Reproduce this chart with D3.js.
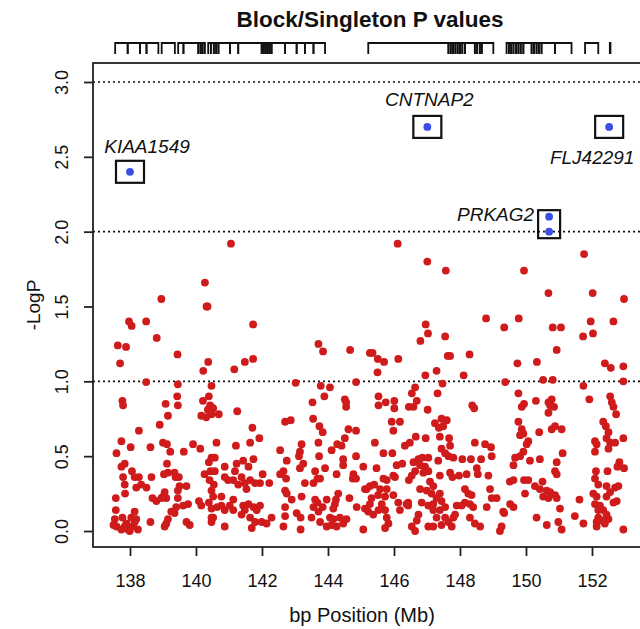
<!DOCTYPE html>
<html>
<head>
<meta charset="utf-8">
<script src="https://cdn.jsdelivr.net/npm/d3@7"></script>
<style>
  body { margin: 0; background: #fff; }
  text { font-family: "Liberation Sans", Arial, sans-serif; fill: #111; }
</style>
</head>
<body>
<script>
// tick values
var xTicks = [138, 140, 142, 144, 146, 148, 150, 152];
var yTicks = [0, 0.5, 1, 1.5, 2, 2.5, 3];
var thresholds = [1, 2, 3];

// LD blocks along the top [start Mb, end Mb]
var blocks = [
  [137.55, 137.93], [137.93, 138.30], [138.30, 138.50], [138.50, 138.86],
  [138.96, 139.36],
  [139.46, 139.62], [139.62, 140.07],
  [140.07, 140.14], [140.14, 140.20], [140.20, 140.27],
  [140.37, 140.45], [140.45, 140.54], [140.54, 140.61], [140.61, 140.68],
  [140.68, 141.03], [141.03, 141.28], [141.28, 141.99],
  [141.99, 142.05], [142.05, 142.11], [142.11, 142.17], [142.17, 142.23], [142.23, 142.29],
  [142.29, 142.70], [142.70, 143.05], [143.05, 143.30], [143.30, 143.56], [143.56, 143.91],
  [145.22, 147.65],
  [147.65, 147.72], [147.72, 147.79], [147.79, 147.86], [147.86, 147.93], [147.93, 148.00],
  [148.00, 148.07], [148.07, 148.15], [148.15, 148.45],
  [148.45, 148.52], [148.52, 148.60], [148.60, 148.66], [148.66, 149.01],
  [149.41, 149.48], [149.48, 149.55], [149.55, 149.62], [149.62, 149.70], [149.70, 149.77],
  [149.77, 149.84], [149.84, 149.92], [149.92, 150.17],
  [150.17, 150.24], [150.24, 150.32], [150.32, 150.39], [150.39, 150.47],
  [150.47, 150.88], [150.88, 151.38],
  [151.79, 152.19],
  [152.54, 152.56]
];

// highlighted genes
var genes = ["KIAA1549", "CNTNAP2", "PRKAG2", "FLJ42291"];
var geneSnps = [
  {gene: "KIAA1549", pos: 138.00, logp: 2.40},
  {gene: "CNTNAP2", pos: 147.01, logp: 2.70},
  {gene: "PRKAG2", pos: 150.70, logp: 2.10},
  {gene: "PRKAG2", pos: 150.70, logp: 2.00},
  {gene: "FLJ42291", pos: 152.52, logp: 2.70}
];

// all other SNPs [position Mb, -log P]
var snps = [
  // above 1.0
  [141.06,1.92],[140.27,1.66],[140.32,1.50],[140.35,1.50],[138.95,1.55],[137.97,1.40],[138.05,1.37],
  [138.49,1.40],[138.81,1.29],[137.63,1.24],[137.88,1.23],[137.70,1.12],[139.44,1.18],[141.73,1.38],
  [141.48,1.13],[141.73,1.15],[141.16,1.08],[140.22,1.07],[140.37,1.13],[143.71,1.25],[143.85,1.20],
  [144.67,1.21],[145.27,1.19],[138.49,0.995],[143.02,0.99],[144.85,0.995],
  [146.11,1.92],[151.76,1.85],[147.01,1.80],[147.57,1.74],[149.94,1.74],[150.68,1.59],[152.02,1.59],
  [152.97,1.55],[148.79,1.42],[149.78,1.42],[149.34,1.36],[150.81,1.36],[151.06,1.36],[151.96,1.40],
  [152.65,1.40],[151.73,1.30],[152.03,1.32],[146.96,1.38],[147.03,1.32],[146.80,1.27],[147.55,1.30],
  [150.93,1.21],[145.35,1.19],[145.51,1.15],[145.70,1.13],[146.13,1.15],[145.50,1.06],[147.63,1.17],
  [147.70,1.17],[148.29,1.18],[146.95,1.04],[147.29,1.07],[148.11,1.04],[149.74,1.12],[150.33,1.13],
  [152.39,1.12],[152.57,1.09],[152.95,1.10],[150.52,1.01],[150.81,1.01],[152.95,1.00],[149.37,0.995],
  [147.47,0.985],[146.64,0.96],[151.74,0.97],
  // 137.5 - 141
  [139.45,0.98],[140.47,0.97],[137.77,0.87],[137.79,0.84],[139.08,0.85],[139.43,0.90],[139.45,0.84],
  [140.21,0.87],[140.39,0.90],[140.43,0.84],[140.36,0.81],[140.16,0.77],[140.31,0.76],[140.47,0.78],
  [140.69,0.78],[140.52,0.82],[139.15,0.77],[138.90,0.71],[138.27,0.67],[137.74,0.60],[138.02,0.56],
  [137.59,0.52],[138.62,0.56],[139.00,0.59],[139.12,0.58],[139.22,0.53],[139.63,0.53],[139.91,0.58],
  [140.13,0.55],[140.62,0.59],[140.47,0.49],[140.57,0.49],[140.39,0.46],[137.74,0.43],[137.84,0.45],
  [139.12,0.45],[138.06,0.40],[137.79,0.36],[138.14,0.36],[137.84,0.31],[138.27,0.36],[138.19,0.29],
  [138.34,0.31],[138.50,0.29],[138.65,0.36],[139.03,0.38],[139.15,0.39],[139.35,0.39],[139.38,0.36],
  [139.48,0.36],[139.50,0.30],[139.71,0.30],[139.45,0.27],[140.26,0.38],[140.44,0.40],[140.57,0.40],
  [140.41,0.34],[140.47,0.27],[140.54,0.31],[140.87,0.43],[140.87,0.36],[140.97,0.34],[137.57,0.22],
  [137.85,0.25],[138.68,0.22],[138.80,0.20],[139.00,0.23],[139.10,0.22],[139.05,0.26],[138.95,0.22],
  [139.45,0.22],[139.40,0.16],[139.25,0.13],[139.35,0.12],[139.61,0.17],[139.76,0.18],[140.09,0.20],
  [140.16,0.17],[140.39,0.19],[140.52,0.23],[140.47,0.15],[140.64,0.16],[140.47,0.09],[140.77,0.23],
  [140.77,0.17],[140.87,0.14],[141.02,0.17],[137.57,0.14],[137.54,0.08],[137.50,0.04],[137.59,0.03],
  [137.77,0.09],[137.89,0.05],[137.74,0.01],[137.99,0.00],[138.09,0.03],[138.14,0.06],[138.14,0.13],
  [138.19,0.08],[138.24,0.01],[138.04,0.09],[137.94,0.01],[137.84,0.03],[138.62,0.06],[139.10,0.05],
  [139.15,0.08],[139.05,0.03],[139.71,0.06],[139.81,0.04],[140.47,0.06],[140.52,0.09],[140.87,0.03],
  // 141 - 145
  [141.25,0.80],[143.78,0.97],[144.06,0.96],[143.89,0.90],[143.53,0.86],[143.55,0.75],[143.74,0.70],
  [143.84,0.66],[144.51,0.88],[144.55,0.86],[144.55,0.83],[144.62,0.68],[144.85,0.67],[142.70,0.73],
  [142.87,0.74],[141.71,0.69],[141.92,0.62],[141.64,0.59],[141.21,0.57],[142.55,0.54],[143.20,0.58],
  [143.15,0.53],[143.12,0.50],[143.71,0.59],[143.73,0.50],[144.11,0.54],[144.28,0.58],[144.51,0.62],
  [144.41,0.57],[144.46,0.48],[144.46,0.44],[144.85,0.50],[141.23,0.45],[141.43,0.47],[141.59,0.43],
  [141.74,0.48],[141.18,0.40],[141.38,0.36],[141.13,0.34],[141.48,0.32],[141.64,0.34],[141.79,0.32],
  [141.53,0.28],[141.28,0.31],[142.02,0.38],[142.22,0.32],[141.94,0.32],[142.75,0.47],[142.65,0.40],
  [142.55,0.38],[142.73,0.35],[142.70,0.27],[142.75,0.25],[143.15,0.42],[143.25,0.45],[143.61,0.40],
  [143.91,0.42],[143.68,0.35],[143.76,0.35],[143.56,0.32],[143.30,0.32],[144.26,0.38],[144.77,0.38],
  [144.75,0.35],[144.85,0.35],[145.07,0.43],[145.12,0.28],[142.90,0.21],[143.20,0.23],[142.70,0.16],
  [142.70,0.10],[142.65,0.03],[143.05,0.12],[143.17,0.09],[143.17,0.01],[143.61,0.21],[143.68,0.19],
  [143.56,0.16],[143.50,0.09],[143.71,0.13],[143.84,0.16],[143.96,0.21],[143.76,0.06],[144.31,0.25],
  [144.24,0.21],[144.21,0.18],[144.16,0.15],[144.06,0.09],[144.16,0.08],[143.96,0.03],[144.11,0.04],
  [144.36,0.09],[144.26,0.03],[144.46,0.05],[144.56,0.08],[144.65,0.22],[144.87,0.16],[145.12,0.15],
  [145.07,0.01],[141.13,0.21],[141.13,0.14],[141.43,0.17],[141.59,0.18],[141.74,0.16],[141.84,0.14],
  [141.94,0.17],[141.64,0.09],[141.79,0.06],[141.99,0.06],[141.69,0.02],[142.14,0.05],[142.29,0.09],
  [141.48,0.14],[141.38,0.11],
  // 145 - 149.3
  [145.53,0.90],[145.53,0.84],[145.75,0.86],[146.01,0.87],[146.01,0.82],[146.54,0.92],[146.69,0.87],
  [146.45,0.83],[146.59,0.83],[147.02,0.81],[147.32,0.92],[148.37,0.84],[148.43,0.82],[145.93,0.73],
  [146.18,0.73],[145.98,0.67],[147.24,0.72],[147.36,0.69],[147.49,0.70],[147.60,0.74],[147.44,0.75],
  [147.39,0.63],[147.67,0.62],[147.70,0.57],[145.42,0.59],[145.68,0.52],[145.95,0.52],[146.33,0.57],
  [146.48,0.59],[146.66,0.63],[146.96,0.62],[147.44,0.55],[147.55,0.52],[147.65,0.50],[147.80,0.49],
  [148.45,0.59],[148.76,0.58],[148.94,0.56],[148.96,0.50],[148.64,0.48],[146.08,0.44],[146.25,0.45],
  [146.59,0.46],[146.74,0.48],[146.86,0.49],[147.04,0.49],[146.79,0.44],[146.94,0.43],[146.64,0.40],
  [146.54,0.37],[146.89,0.39],[147.04,0.40],[147.34,0.47],[147.70,0.39],[147.77,0.36],[147.97,0.37],
  [148.07,0.48],[148.33,0.48],[148.20,0.38],[148.51,0.42],[148.54,0.38],[148.86,0.37],[147.39,0.37],
  [145.47,0.42],[145.68,0.35],[145.78,0.34],[145.98,0.37],[146.03,0.36],[146.45,0.34],[145.27,0.30],
  [145.40,0.31],[145.17,0.28],[145.58,0.28],[145.78,0.28],[145.98,0.24],[145.73,0.23],[145.52,0.24],
  [146.13,0.19],[146.43,0.19],[146.43,0.17],[146.79,0.28],[146.99,0.27],[147.09,0.33],[147.19,0.30],
  [147.14,0.25],[147.29,0.22],[147.39,0.25],[147.19,0.18],[147.04,0.17],[146.84,0.19],[147.44,0.20],
  [147.55,0.16],[147.39,0.14],[147.19,0.14],[147.29,0.09],[147.55,0.09],[147.65,0.06],[147.44,0.04],
  [147.19,0.03],[147.04,0.03],[147.75,0.03],[147.80,0.09],[147.90,0.17],[147.85,0.11],[146.74,0.11],
  [146.69,0.07],[146.54,0.03],[146.64,0.00],[148.15,0.28],[148.25,0.25],[148.35,0.24],[148.15,0.19],
  [148.30,0.18],[148.05,0.17],[148.40,0.16],[148.30,0.09],[148.45,0.05],[148.61,0.03],[148.81,0.16],
  [148.91,0.28],[148.96,0.22],[149.21,0.00],[149.34,0.12],[149.11,0.22],[145.32,0.22],[145.27,0.18],
  [145.37,0.11],[145.22,0.13],[145.63,0.18],[145.73,0.14],[145.78,0.09],[145.83,0.05],[145.73,0.02],
  [145.53,0.14],[146.18,0.14],[146.38,0.18],
  // 149.3 - 153
  [149.77,0.92],[149.94,0.85],[149.87,0.83],[150.30,0.87],[150.68,0.86],[150.78,0.88],[150.73,0.84],
  [150.85,0.83],[150.68,0.79],[151.92,0.88],[152.55,0.90],[152.60,0.86],[152.65,0.83],[152.73,0.78],
  [149.77,0.73],[149.87,0.68],[149.92,0.65],[149.82,0.64],[150.40,0.66],[150.78,0.68],[150.88,0.70],
  [151.08,0.68],[152.34,0.73],[152.42,0.70],[152.50,0.66],[152.44,0.62],[150.07,0.60],[150.02,0.58],
  [149.92,0.53],[149.82,0.50],[149.67,0.49],[149.62,0.44],[150.12,0.47],[150.42,0.48],[150.93,0.46],
  [151.11,0.52],[150.88,0.40],[150.93,0.38],[152.09,0.60],[152.14,0.58],[152.09,0.53],[152.55,0.59],
  [152.70,0.59],[152.95,0.62],[152.50,0.55],[152.83,0.46],[152.77,0.43],[152.97,0.42],[152.12,0.40],
  [152.47,0.40],[152.09,0.35],[149.51,0.33],[149.62,0.34],[149.94,0.34],[150.07,0.34],[150.27,0.30],
  [150.50,0.33],[150.42,0.28],[150.63,0.27],[150.73,0.26],[150.52,0.23],[150.88,0.24],[150.93,0.22],
  [150.68,0.22],[149.97,0.25],[152.19,0.31],[152.44,0.30],[152.70,0.29],[152.80,0.30],[152.55,0.26],
  [152.44,0.23],[152.75,0.20],[152.65,0.19],[152.04,0.25],[152.14,0.23],[152.09,0.18],[152.24,0.17],
  [152.19,0.14],[152.34,0.14],[152.44,0.11],[152.19,0.09],[152.29,0.07],[152.39,0.05],[152.14,0.06],
  [152.50,0.08],[152.14,0.03],[149.31,0.13],[149.52,0.18],[149.62,0.16],[149.26,0.03],[150.32,0.09],
  [150.63,0.04],[150.98,0.06],[151.03,0.15],[151.08,0.01],[151.48,0.10],[151.62,0.21],[151.74,0.05],
  [152.95,0.01]
];

// layout
var width = 640, height = 629;
var plot = {left: 93, right: 646, top: 63, bottom: 547};

// box size and label offset per gene (pixels)
var geneStyle = {
  "KIAA1549": {w: 28, h: 22, dx: 17, dy: -19, anchor: "middle"},
  "CNTNAP2": {w: 28, h: 22, dx: 2, dy: -21, anchor: "middle"},
  "PRKAG2": {w: 22, h: 28, dx: -15, dy: -3, anchor: "end"},
  "FLJ42291": {w: 28, h: 22, dx: -17, dy: 37, anchor: "middle"}
};

var svg = d3.select("body").append("svg")
  .attr("width", width)
  .attr("height", height);

var x = d3.scaleLinear()
  .domain([138, 152])
  .range([130, 592]);

var y = d3.scaleLinear()
  .domain([0, 3])
  .range([531, 82]);

// title
svg.append("text")
  .attr("x", 370)
  .attr("y", 27)
  .attr("text-anchor", "middle")
  .style("font-size", "22.5px")
  .style("font-weight", "bold")
  .text("Block/Singleton P values");

// LD block markers
var blockG = svg.append("g")
  .attr("fill", "none")
  .attr("stroke", "#111")
  .attr("stroke-width", 1.8);

blockG.selectAll("path")
  .data(blocks)
  .enter()
  .append("path")
  .attr("d", function(d) {
    var x0 = x(d[0]), x1 = x(d[1]);
    return "M" + x0 + ",54V43H" + x1 + "V54";
  });

// dotted reference lines
svg.selectAll(".thresh")
  .data(thresholds)
  .enter()
  .append("line")
  .attr("class", "thresh")
  .attr("x1", plot.left)
  .attr("x2", plot.right)
  .attr("y1", d => y(d))
  .attr("y2", d => y(d))
  .attr("stroke", "#111")
  .attr("stroke-width", 1.7)
  .attr("stroke-dasharray", "2,3");

// red SNP points
svg.append("g")
  .selectAll("circle")
  .data(snps)
  .enter()
  .append("circle")
  .attr("cx", d => x(d[0]))
  .attr("cy", d => y(d[1]))
  .attr("r", 3.9)
  .attr("fill", "#cf1b1b");

// gene boxes + labels
genes.forEach(function(g) {
  var pts = geneSnps.filter(d => d.gene === g);
  var st = geneStyle[g];
  var cx = d3.mean(pts, d => x(d.pos));
  var cy = d3.mean(pts, d => y(d.logp));

  svg.append("rect")
    .attr("x", cx - st.w / 2)
    .attr("y", cy - st.h / 2)
    .attr("width", st.w)
    .attr("height", st.h)
    .attr("fill", "none")
    .attr("stroke", "#111")
    .attr("stroke-width", 2.2);

  svg.append("text")
    .attr("x", cx + st.dx)
    .attr("y", cy + st.dy)
    .attr("text-anchor", st.anchor)
    .style("font-size", "19px")
    .style("font-style", "italic")
    .text(g);
});

svg.append("g")
  .selectAll("circle")
  .data(geneSnps)
  .enter()
  .append("circle")
  .attr("cx", d => x(d.pos))
  .attr("cy", d => y(d.logp))
  .attr("r", 3.9)
  .attr("fill", "#3a4ee6");

// plot frame
svg.append("rect")
  .attr("x", plot.left)
  .attr("y", plot.top)
  .attr("width", plot.right - plot.left)
  .attr("height", plot.bottom - plot.top)
  .attr("fill", "none")
  .attr("stroke", "#222")
  .attr("stroke-width", 1.8);

// x axis
var xAxis = svg.append("g")
  .attr("transform", `translate(0, ${plot.bottom})`)
  .call(d3.axisBottom(x).tickValues(xTicks).tickSize(9).tickPadding(18).tickFormat(d3.format("d")));
xAxis.select(".domain").remove();
xAxis.selectAll("line").attr("stroke", "#222").attr("stroke-width", 1.8);
xAxis.selectAll("text")
  .style("font-size", "18px")
  .attr("fill", "#111")
  .attr("font-family", null);

// y axis with rotated labels
var yAxis = svg.append("g")
  .attr("transform", `translate(${plot.left}, 0)`)
  .call(d3.axisLeft(y).tickValues(yTicks).tickSize(9).tickFormat(d3.format(".1f")));
yAxis.select(".domain").remove();
yAxis.selectAll("line").attr("stroke", "#222").attr("stroke-width", 1.8);
yAxis.selectAll("text")
  .attr("x", 0)
  .attr("y", -25)
  .attr("dy", 0)
  .attr("transform", "rotate(-90)")
  .attr("text-anchor", "middle")
  .attr("fill", "#111")
  .attr("font-family", null)
  .style("font-size", "18px");

// axis titles
svg.append("text")
  .attr("x", 362)
  .attr("y", 622)
  .attr("text-anchor", "middle")
  .style("font-size", "20px")
  .text("bp Position (Mb)");

svg.append("text")
  .attr("transform", `translate(40, ${(plot.top + plot.bottom) / 2}) rotate(-90)`)
  .attr("text-anchor", "middle")
  .style("font-size", "19px")
  .text("-LogP");
</script>
</body>
</html>
